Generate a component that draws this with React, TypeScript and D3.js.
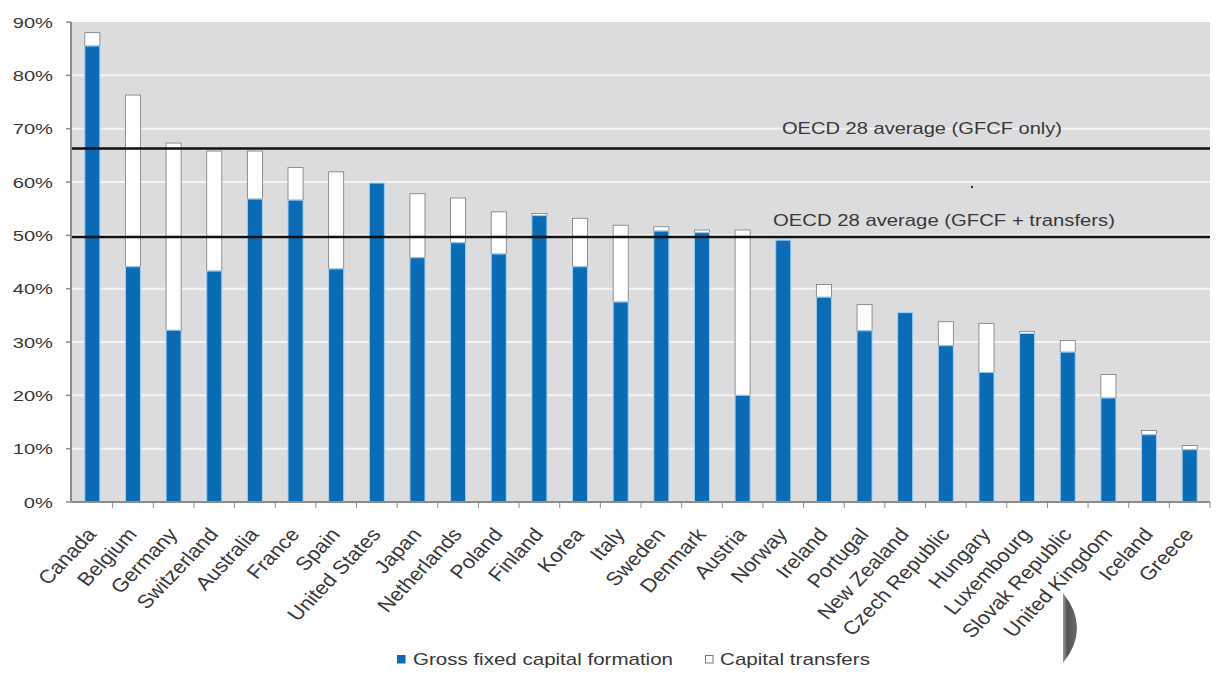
import React from "react";
import * as d3 from "d3";

const countries = ["Canada","Belgium","Germany","Switzerland","Australia","France","Spain","United States","Japan","Netherlands","Poland","Finland","Korea","Italy","Sweden","Denmark","Austria","Norway","Ireland","Portugal","New Zealand","Czech Republic","Hungary","Luxembourg","Slovak Republic","United Kingdom","Iceland","Greece"];
const gfcf = [85.5,44.1,32.2,43.3,56.8,56.6,43.7,59.8,45.8,48.6,46.5,53.7,44.1,37.5,50.8,50.5,20.0,49.1,38.4,32.1,35.5,29.3,24.3,31.6,28.1,19.5,12.6,9.8];
const transfers = [2.5,32.2,35.1,22.5,9.0,6.1,18.2,0,12.0,8.4,7.9,0.4,9.1,14.4,0.8,0.5,31.0,0,2.4,4.9,0,4.5,9.2,0.4,2.2,4.4,0.8,0.8];
const yTicks = [0,10,20,30,40,50,60,70,80,90];
const averages = [
  { value: 66.3, label: "OECD 28 average (GFCF only)", lx: 782, len: 280, off: 14 },
  { value: 49.7, label: "OECD 28 average (GFCF + transfers)", lx: 773, len: 342, off: 11 },
];
const legendItems = ["Gross fixed capital formation", "Capital transfers"];

const W = 1217, H = 673;
const left = 72, right = 1210, top = 22, bottom = 502;
const BLUE = "#0b6bb5";
const TXT = "#383838";
const FONT = "'Liberation Sans', Arial, sans-serif";

export default function App() {
  const x = d3.scaleBand<string>().domain(countries).range([left, right]).paddingInner(0.63).paddingOuter(0.315);
  const xb = d3.scaleBand<string>().domain(countries).range([left, right]);
  const y = d3.scaleLinear().domain([0, 90]).range([bottom, top]);
  const bw = x.bandwidth();
  return (
    <svg width={W} height={H} style={{ position: "absolute", left: 0, top: 0, background: "#fff" }} fontFamily={FONT}>
      <defs>
        <linearGradient id="cres" x1="0" x2="1" y1="0" y2="0">
          <stop offset="0" stopColor="#9a9a9a" />
          <stop offset="0.3" stopColor="#555" />
          <stop offset="1" stopColor="#6a6a6a" />
        </linearGradient>
      </defs>
      <rect x={left} y={top} width={right - left} height={bottom - top} fill="#dcdcde" />
      {yTicks.filter(t => t > 0 && t < 90).map(t => (
        <line key={"g" + t} x1={left} x2={right} y1={y(t)} y2={y(t)} stroke="#f4f4f4" strokeWidth={2} />
      ))}
      {countries.map((c, i) => {
        const bx = x(c)!;
        const tot = gfcf[i] + transfers[i];
        return (
          <g key={c}>
            {transfers[i] > 0 && (
              <rect x={bx} y={y(tot)} width={bw} height={y(gfcf[i]) - y(tot)} fill="#ffffff" stroke="#7a7a7a" strokeWidth={0.8} />
            )}
            <rect x={bx} y={y(gfcf[i])} width={bw} height={bottom - y(gfcf[i])} fill={BLUE} stroke="#9fd0f2" strokeWidth={1} />
          </g>
        );
      })}
      {averages.map(a => (
        <g key={a.label}>
          <line x1={left} x2={right} y1={y(a.value)} y2={y(a.value)} stroke="#111" strokeWidth={2.5} />
          <text x={a.lx} y={y(a.value) - a.off} fontSize={17} fill={TXT} textLength={a.len} lengthAdjust="spacingAndGlyphs">{a.label}</text>
        </g>
      ))}
      <circle cx={972} cy={187} r={1.2} fill="#333" />
      {/* axes */}
      <line x1={71} x2={71} y1={top} y2={bottom} stroke="#8c8c8c" strokeWidth={2} />
      <line x1={71} x2={right} y1={bottom} y2={bottom} stroke="#8c8c8c" strokeWidth={2} />
      {yTicks.map(t => (
        <g key={"y" + t}>
          <line x1={66} x2={71} y1={y(t)} y2={y(t)} stroke="#8c8c8c" strokeWidth={1.5} />
          <text transform={`translate(53 ${y(t)}) scale(1.3 1)`} dy="0.36em" textAnchor="end" fontSize={15.5} fill={TXT}>{t + "%"}</text>
        </g>
      ))}
      {countries.map(c => (
        <line key={"t" + c} x1={xb(c)! + xb.bandwidth()} x2={xb(c)! + xb.bandwidth()} y1={bottom} y2={bottom + 6} stroke="#8c8c8c" strokeWidth={1} />
      ))}
      {countries.map(c => {
        const cx = xb(c)! + xb.bandwidth() / 2 + 5;
        const cy = 535;
        return (
          <text key={"l" + c} transform={`translate(${cx} ${cy}) scale(1.15 1) rotate(-50)`} textAnchor="end" fontSize={19} fill={TXT}>{c}</text>
        );
      })}
      {/* legend */}
      <rect x={397} y={655} width={8.5} height={8.5} fill={BLUE} />
      <text x={413} y={665} fontSize={17} fill={TXT} textLength={260} lengthAdjust="spacingAndGlyphs">{legendItems[0]}</text>
      <rect x={705.5} y={655.5} width={7.5} height={7.5} fill="#fff" stroke="#777" strokeWidth={1} />
      <text x={720} y={665} fontSize={17} fill={TXT} textLength={150} lengthAdjust="spacingAndGlyphs">{legendItems[1]}</text>
      {/* scan artifact */}
      <path d="M1063,593 Q1091,628 1063,663 Z" fill="url(#cres)" />
    </svg>
  );
}
